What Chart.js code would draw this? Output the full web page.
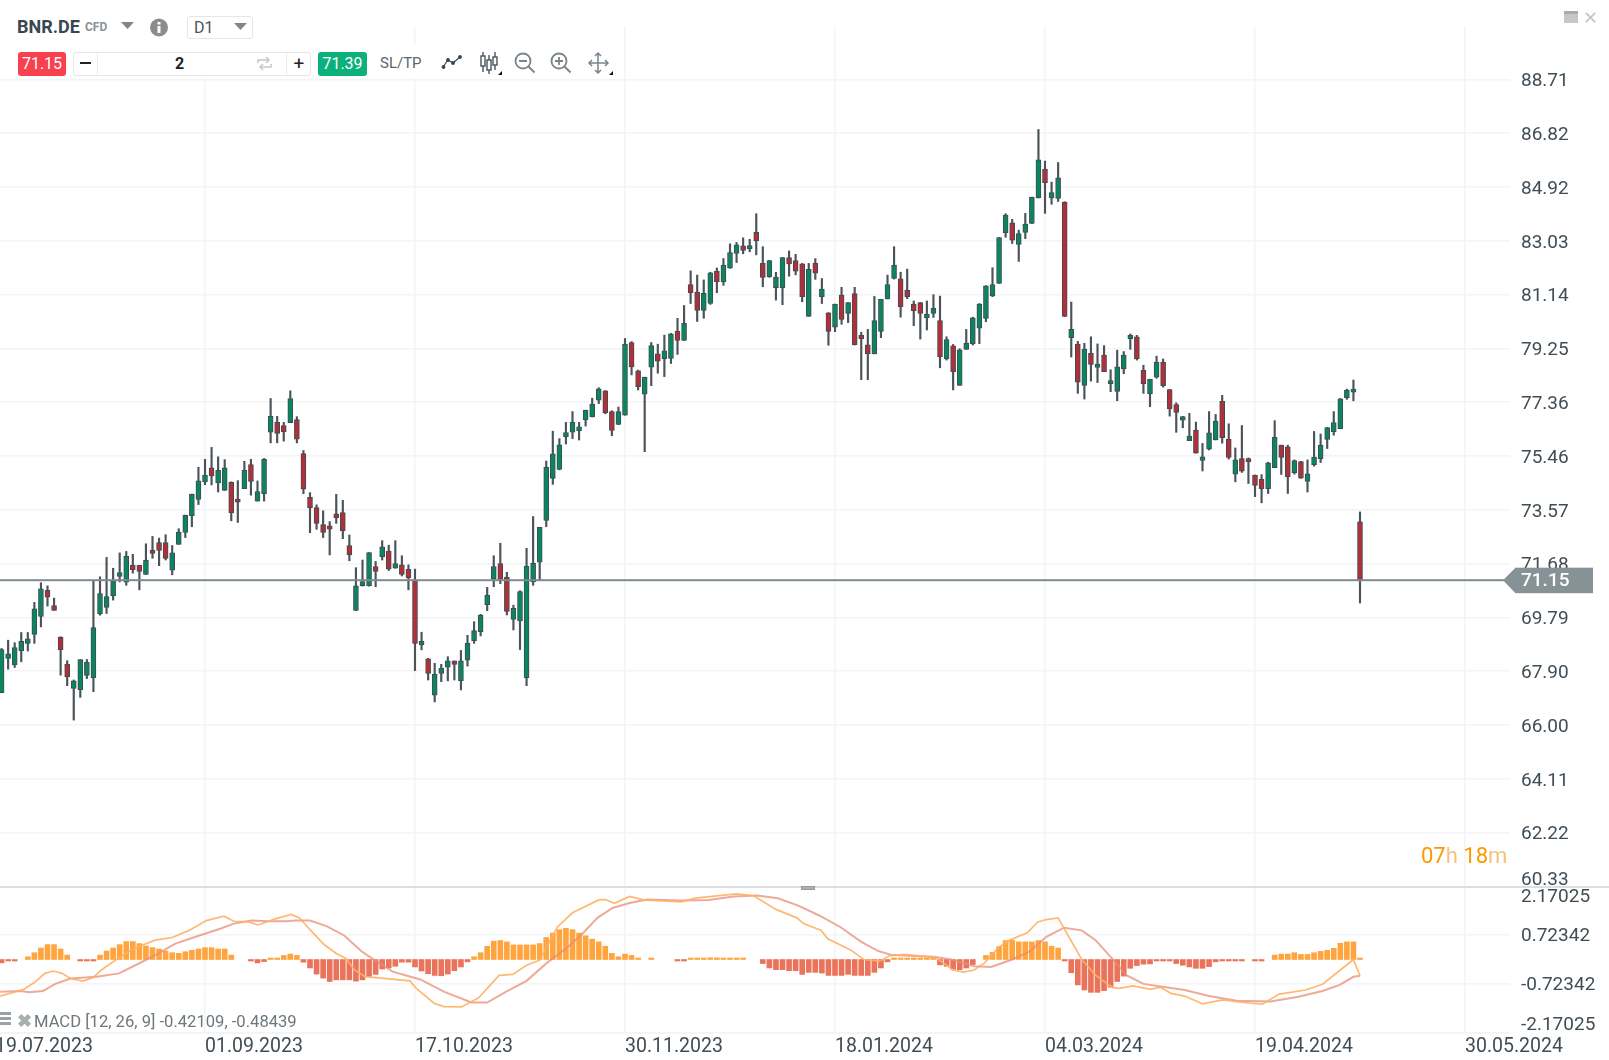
<!DOCTYPE html>
<html>
<head>
<meta charset="utf-8">
<title>BNR.DE</title>
<script src="https://cdn.jsdelivr.net/npm/chart.js@4/dist/chart.umd.min.js"></script>
<style>
  html, body { margin: 0; background: #fff; width: 1609px; height: 1060px; overflow: hidden; font-family: Roboto, sans-serif; }
  canvas { position: absolute; left: 0; }
  #priceChart { top: 0; }
  #macdChart { top: 886px; }
  .t { position: absolute; white-space: nowrap; line-height: 1; }
  .box { position: absolute; box-sizing: border-box; }
  svg { position: absolute; overflow: visible; }
</style>
</head>
<body>
<canvas id="priceChart" width="1609" height="887"></canvas>
<canvas id="macdChart" width="1609" height="174"></canvas>

<!-- pane separator -->
<div class="box" style="left:0;top:886px;width:1609px;height:2px;background:#dedede"></div>
<div class="box" style="left:801px;top:886px;width:14px;height:4px;background:#b0b0b0;border:1px solid #999"></div>

<!-- toolbar -->
<div class="box" style="left:0;top:0;width:265px;height:45px;background:#fff"></div>
<div class="box" style="left:0;top:45px;width:620px;height:33px;background:#fff"></div>
<span class="t" style="left:17px;top:18px;font-size:18px;font-weight:700;color:#37474f">BNR.DE</span>
<span class="t" style="left:85px;top:21px;font-size:12px;font-weight:700;color:#8a9296">CFD</span>
<svg style="left:121px;top:22px" width="14" height="8"><path d="M0 0H13L6.5 7Z" fill="#80878b"/></svg>
<svg style="left:149px;top:18px" width="20" height="20"><circle cx="10" cy="9.5" r="9" fill="#8c8c8c"/><rect x="8.5" y="8" width="3" height="7" fill="#fff"/><rect x="8.5" y="4" width="3" height="2.5" fill="#fff"/></svg>
<div class="box" style="left:187px;top:16px;width:66px;height:23px;border:1px solid #e4e6e8;border-radius:3px"></div>
<span class="t" style="left:194px;top:20px;font-size:16px;color:#4a5459">D1</span>
<svg style="left:234px;top:23px" width="14" height="8"><path d="M0 0H13L6.5 7Z" fill="#80878b"/></svg>

<div class="box" style="left:18px;top:52px;width:48px;height:24px;background:#f8404e;border-radius:3px"></div>
<span class="t" style="left:18px;top:56px;width:48px;text-align:center;font-size:16px;color:#fff">71.15</span>
<div class="box" style="left:73px;top:52px;width:238px;height:24px;border:1px solid #e4e6e8;border-radius:3px"></div>
<div class="box" style="left:97px;top:53px;width:190px;height:22px;border-left:1px solid #e8eaec;border-right:1px solid #e8eaec"></div>
<div class="box" style="left:80px;top:62px;width:11px;height:2px;background:#222"></div>
<span class="t" style="left:175px;top:56px;font-size:16px;font-weight:700;color:#222">2</span>
<svg style="left:257px;top:56px" width="15" height="15" fill="none" stroke="#c4c8ca" stroke-width="1.5"><path d="M1 7V4H12M9 1L12 4L9 7M14 8V11H3M6 8L3 11L6 14"/></svg>
<span class="t" style="left:287px;top:54px;width:24px;text-align:center;font-size:19px;font-weight:400;color:#222">+</span>
<div class="box" style="left:318px;top:52px;width:49px;height:24px;background:#0bb07b;border-radius:3px"></div>
<span class="t" style="left:318px;top:56px;width:49px;text-align:center;font-size:16px;color:#fff">71.39</span>
<span class="t" style="left:380px;top:56px;font-size:15px;color:#5b666c">SL/TP</span>

<svg style="left:442px;top:54px" width="22" height="16" fill="none" stroke="#37474f" stroke-width="1.2"><path d="M1 13L6 6L11 9L18 3"/><circle cx="1.5" cy="13" r="1.3" fill="#37474f"/><circle cx="6" cy="6" r="1.3" fill="#37474f"/><circle cx="11" cy="9" r="1.3" fill="#37474f"/><circle cx="18" cy="3" r="1.3" fill="#37474f"/></svg>
<svg style="left:480px;top:51px" width="20" height="24" fill="#fff" stroke="#4a5459" stroke-width="1.4"><path d="M3 1V21M9 4V23M15 1V19"/><rect x="1" y="5" width="4" height="10"/><rect x="7" y="9" width="4" height="10"/><rect x="13" y="6" width="4" height="8"/></svg>
<svg style="left:514px;top:52px" width="22" height="22" fill="none" stroke="#7a8489" stroke-width="1.8"><circle cx="9" cy="9" r="7.5"/><path d="M14.5 14.5L20.5 20.5M5 9H13"/></svg>
<svg style="left:550px;top:52px" width="22" height="22" fill="none" stroke="#7a8489" stroke-width="1.8"><circle cx="9" cy="9" r="7.5"/><path d="M14.5 14.5L20.5 20.5M5 9H13M9 5V13"/></svg>
<svg style="left:588px;top:52px" width="22" height="22" fill="none" stroke="#7a8489" stroke-width="1.5"><path d="M10 1V21M1 11H20M7 4L10 1L13 4M7 18L10 21L13 18M4 8L1 11L4 14M17 8L20 11L17 14"/></svg>
<svg style="left:498px;top:71px" width="5" height="5"><path d="M4 0V4H0Z" fill="#111"/></svg>
<svg style="left:609px;top:71px" width="5" height="5"><path d="M4 0V4H0Z" fill="#111"/></svg>

<!-- window buttons -->
<div class="box" style="left:1564px;top:11px;width:14px;height:12px;background:#c4c8cb;border-top:3px solid #a6abaf"></div>
<span class="t" style="left:1583px;top:9px;font-size:18px;color:#c4c8cb">✕</span>

<!-- countdown -->
<span class="t" style="left:1421px;top:845px;font-size:22px;color:#ff9800">07<span style="color:#f5c27f">h</span> 18<span style="color:#f5c27f">m</span></span>

<!-- macd caption -->
<svg style="left:0;top:1012px" width="12" height="15" fill="#9aa1a5"><rect y="0" width="11" height="3"/><rect y="5" width="11" height="3"/><rect y="10" width="11" height="3"/></svg>
<span class="t" style="left:17px;top:1012px;font-size:18px;font-weight:700;color:#a9aeb1">✖</span>
<span class="t" style="left:34px;top:1014px;font-size:16.6px;color:#6e777c">MACD [12, 26, 9] -0.42109, -0.48439</span>

<script>
// bars run from index 1, one per trading day
const firstBar = 1;

const opens = [
  67.14,68.35,68.12,68.62,68.88,69.19,69.83,70.74,70.21,69.10,
  68.15,67.29,67.25,67.75,67.67,69.91,70.14,70.55,71.23,71.03,
  71.62,71.62,71.30,72.16,72.42,72.42,71.45,72.36,72.78,73.37,
  73.94,74.56,75.05,74.52,74.26,74.54,73.95,74.32,75.17,73.88,
  74.14,76.31,76.65,76.54,76.64,76.75,75.55,74.01,73.65,73.06,
  73.01,73.43,73.48,72.32,70.04,70.91,70.91,71.58,71.93,72.12,
  71.52,71.64,71.48,71.10,68.82,68.33,67.06,67.82,68.04,68.26,
  67.57,68.29,68.97,69.29,70.24,71.14,71.68,71.21,69.72,69.67,
  67.67,71.04,71.73,73.20,74.68,75.00,76.15,76.31,76.36,76.74,
  76.84,77.43,77.76,77.03,76.58,76.90,79.46,78.46,77.64,78.59,
  79.06,78.89,78.90,79.86,79.53,81.50,81.23,80.59,80.83,81.97,
  81.59,82.07,82.59,82.86,82.76,83.33,82.24,81.77,81.39,81.39,
  82.45,82.34,82.23,80.38,82.24,81.07,80.50,80.00,81.13,80.48,
  81.18,79.71,79.38,79.06,79.85,80.99,81.71,81.70,81.29,80.81,
  80.86,80.32,80.48,80.23,78.89,79.34,77.95,79.22,79.42,79.96,
  80.31,81.10,81.54,83.32,83.67,82.91,83.33,83.65,84.55,85.56,
  84.54,84.53,84.40,79.63,79.40,77.95,79.08,78.58,79.02,78.01,
  77.74,78.53,79.59,79.66,78.48,77.65,78.24,78.76,77.80,77.28,
  76.73,76.01,76.38,75.31,75.71,76.03,77.39,76.06,74.83,75.38,
  75.37,74.80,74.65,74.32,75.06,75.85,75.79,74.88,75.27,74.57,
  75.16,75.37,76.05,76.32,76.43,77.52,77.71,73.15
];
const highs = [
  68.70,68.99,68.90,69.26,69.26,70.32,71.01,70.90,70.47,69.11,
  68.27,67.59,68.31,68.31,71.08,71.22,71.90,71.52,72.06,72.11,
  72.01,71.62,72.38,72.64,72.58,72.70,72.32,72.91,73.39,74.13,
  75.07,75.35,75.77,75.44,75.34,74.56,74.60,75.28,75.35,74.59,
  75.38,77.49,76.86,76.65,77.76,76.85,75.66,74.18,73.75,73.54,
  73.16,74.12,73.91,72.69,71.54,71.81,72.07,71.76,72.49,72.33,
  72.49,71.96,71.64,71.49,69.27,68.35,68.18,68.14,68.41,68.26,
  68.63,69.16,69.64,69.90,70.85,71.96,72.40,71.38,70.22,70.73,
  72.22,73.34,72.96,75.29,76.34,76.08,76.65,77.03,76.65,77.08,
  77.50,77.87,77.77,77.06,77.19,79.60,79.49,78.49,78.24,79.46,
  79.40,79.72,79.78,80.31,80.76,81.98,81.83,81.66,81.93,82.08,
  82.41,82.93,82.98,83.14,83.09,83.99,82.83,82.35,81.93,82.45,
  82.68,82.56,82.24,82.24,82.41,81.71,80.51,80.81,81.40,80.87,
  81.40,79.82,79.92,81.08,80.98,81.83,82.83,81.93,82.04,80.92,
  80.87,80.92,81.14,81.09,79.66,79.39,79.24,79.92,80.35,80.83,
  81.46,82.09,83.15,83.99,83.79,83.41,84.00,84.57,86.95,85.84,
  85.10,85.79,84.41,80.88,79.50,79.43,79.66,79.41,79.35,78.50,
  79.19,79.14,79.76,79.71,78.66,78.17,78.98,78.88,77.81,77.34,
  76.86,76.97,76.66,75.91,77.03,76.93,77.60,76.60,75.75,76.54,
  75.40,74.80,74.81,75.25,76.71,75.85,75.85,75.33,75.28,75.33,
  76.33,76.24,76.47,77.03,77.49,77.82,78.14,73.50
];
const lows = [
  67.14,67.97,68.03,68.23,68.61,68.88,69.46,70.19,70.04,67.76,
  67.39,66.18,66.98,67.64,67.18,69.87,69.93,70.40,71.04,70.92,
  71.35,70.76,71.30,71.87,71.61,71.81,71.29,72.36,72.60,72.98,
  73.76,74.46,74.45,74.20,74.26,73.19,73.13,74.32,74.09,73.88,
  73.88,75.93,75.93,75.99,76.64,75.93,74.14,72.77,72.89,72.60,
  71.99,73.10,72.56,71.78,70.03,70.89,70.89,70.87,71.81,71.44,
  71.52,71.25,70.76,67.92,68.65,67.59,66.82,67.53,67.56,67.59,
  67.24,68.08,68.88,69.14,70.03,70.87,70.98,69.88,69.35,68.66,
  67.39,70.92,71.11,72.98,74.47,74.98,75.89,76.08,76.03,76.52,
  76.84,77.31,76.95,76.18,76.57,76.90,78.32,77.79,75.62,77.94,
  78.38,78.26,78.72,79.04,79.53,80.83,80.20,80.31,80.80,81.21,
  81.47,82.07,82.27,82.58,82.65,82.54,81.42,81.75,80.95,80.79,
  81.79,81.84,80.89,80.38,81.68,80.83,79.36,79.84,80.10,80.16,
  79.37,78.15,78.15,79.06,79.63,80.99,81.69,80.35,81.00,80.05,
  79.58,79.90,80.34,78.57,78.84,77.79,77.95,79.22,79.37,79.42,
  80.19,81.07,81.54,83.16,82.94,82.31,83.11,83.64,84.54,84.00,
  84.32,84.42,80.37,78.95,77.67,77.47,78.10,78.05,78.43,77.73,
  77.41,78.36,79.22,78.84,77.67,77.20,78.20,77.89,76.87,76.30,
  76.46,76.01,75.57,74.94,75.68,76.03,75.92,75.36,74.56,74.89,
  74.50,74.04,73.82,74.15,75.06,74.82,74.15,74.83,74.68,74.20,
  75.11,75.24,75.73,76.20,76.43,77.46,77.41,70.30
];
const closes = [
  68.66,68.51,68.73,68.95,69.04,70.09,70.80,70.50,70.04,68.66,
  67.71,67.56,68.31,68.21,69.43,70.63,70.52,71.08,71.37,71.95,
  71.47,71.41,71.80,72.04,72.15,71.87,72.06,72.79,73.38,74.12,
  74.59,74.80,74.77,74.96,75.05,73.47,73.84,74.96,74.57,74.22,
  75.35,76.86,76.26,76.32,77.49,76.06,74.30,73.64,73.10,72.78,
  72.89,73.30,72.84,71.99,70.90,71.05,72.07,71.41,72.27,71.49,
  71.68,71.30,71.19,68.88,68.95,67.82,67.79,68.00,68.26,68.14,
  68.26,68.89,69.33,69.87,70.58,71.58,71.13,70.00,70.11,70.70,
  71.59,71.69,72.96,75.07,75.54,75.86,76.29,76.65,76.49,77.08,
  77.29,77.83,76.99,76.37,77.03,79.40,78.60,77.91,78.24,79.35,
  78.80,79.17,79.76,79.53,80.13,81.21,80.59,81.19,81.91,81.60,
  82.18,82.62,82.89,82.70,82.86,83.03,81.75,82.34,81.76,82.45,
  82.22,81.97,81.07,82.03,81.90,81.34,79.85,80.81,80.27,80.86,
  79.38,79.59,79.06,80.23,80.98,81.50,82.18,80.71,81.07,80.58,
  80.48,80.45,80.66,78.96,79.56,78.43,79.20,79.44,80.33,80.81,
  81.45,81.50,83.15,83.94,83.06,83.29,83.62,84.57,85.88,85.08,
  84.73,85.25,80.38,79.92,78.06,79.23,78.69,78.70,78.43,78.12,
  78.60,79.02,79.71,78.88,78.01,78.16,78.76,77.94,77.12,77.00,
  76.85,76.17,75.57,75.44,76.28,76.70,76.11,75.42,75.33,74.93,
  75.27,74.43,74.32,75.23,76.12,75.42,74.74,75.31,74.69,74.84,
  75.43,75.85,76.47,76.64,77.48,77.79,77.82,71.11
];

const histogram = [
  -.10,-.03,-.02,0,.08,.20,.34,.44,.44,.31,
  .13,0,-.02,-.04,-.02,.13,.25,.34,.44,.53,
  .53,.47,.40,.35,.31,.25,.20,.18,.23,.27,
  .31,.35,.35,.31,.31,.13,0,0,-.02,-.10,
  -.06,.02,.04,.12,.16,.12,-.08,-.25,-.43,-.55,
  -.65,-.60,-.60,-.60,-.64,-.60,-.50,-.44,-.28,-.25,
  -.20,-.08,-.08,-.22,-.34,-.42,-.47,-.48,-.43,-.33,
  -.22,-.07,.08,.20,.39,.54,.56,.52,.43,.43,
  .43,.43,.47,.65,.78,.88,.92,.88,.78,.70,
  .60,.52,.39,.18,.08,.16,.12,.03,0,.03,
  0,0,0,-.02,-.02,.02,.02,.02,.05,.05,
  .04,.04,.04,.02,0,0,-.12,-.25,-.30,-.30,
  -.33,-.33,-.44,-.38,-.38,-.40,-.47,-.47,-.47,-.44,
  -.47,-.47,-.47,-.38,-.25,-.07,.03,.02,.02,.02,
  .02,.02,.02,-.16,-.20,-.29,-.30,-.25,-.15,0,
  .12,.21,.38,.56,.57,.52,.52,.52,.56,.52,
  .39,.34,-.02,-.39,-.75,-.90,-.97,-.97,-.92,-.82,
  -.65,-.49,-.26,-.18,-.14,-.13,-.02,-.02,-.03,-.12,
  -.17,-.22,-.26,-.26,-.21,-.07,-.02,-.02,-.02,-.02,
  0,-.02,-.02,0,.13,.16,.16,.20,.15,.15,
  .20,.24,.27,.33,.48,.52,.52,.03
];

// macd and signal lines, read at the bends of each curve
const macdIdx = [0.8,4.4,6,7.6,8.9,10.2,11.5,13.4,15,16.2,18.6,20.7,22.8,24.4,27,29.6,32.2,34.9,36.4,38.5,40.1,42.7,45.1,46.4,48,50.1,52,53.5,54.8,56.4,58.5,63.2,64.2,66.9,68.4,71.1,73.7,76.8,78.9,81,83,85.7,88,92,93,94.4,96.7,98.8,104.6,106.7,113,115.6,119,122.2,123.2,125.9,126.9,130.3,132.4,134.8,136.3,138.7,143.4,146,147.6,149.2,150.8,153,154.9,157.3,158.9,160.2,162,165.6,167.7,170.3,171.3,173.4,176.1,177.6,179.2,181.3,184,187.1,190.2,193.1,195.7,199.7,202.3,207,208];
const macdVal = [-1.08,-.88,-.68,-.41,-.34,-.41,-.56,-.64,-.53,-.31,.01,.27,.45,.57,.65,.86,1.15,1.28,1.13,1.12,1.02,1.2,1.33,1.23,.88,.45,.18,.03,-.31,-.51,-.54,-.63,-.85,-1.29,-1.39,-1.40,-1.13,-.47,-.44,-.17,-.02,.96,1.38,1.76,1.77,1.66,1.86,1.76,1.70,1.81,1.94,1.88,1.48,1.23,1.06,.86,.61,.29,0,-.05,.11,.15,.05,-.31,-.37,-.31,-.10,.37,.6,.79,1.11,1.18,1.23,0,-.46,-.83,-.85,-.78,-.88,-.82,-1,-1.08,-1.31,-1.19,-1.27,-1.32,-1.02,-.9,-.73,0,-.48];
const signalIdx = [0.8,3.9,5.2,7.3,9.2,11.5,15.5,18.9,21.7,24.4,27.5,30.7,34.3,36.4,39.1,41.7,44.3,45.9,48,50.6,53.2,55.8,58,60.6,64.8,68.4,72.6,75,77.9,81,84.1,87.3,89.4,91.8,94.1,96.7,99.4,104.6,108.8,112.5,116.1,119.3,122.4,125.6,128.8,132,134.6,136.7,143,145.5,149.2,151.8,155,157.7,160.2,162.9,165.6,167.7,170.3,172.4,175,178.7,181.3,185,189.2,194.4,198.6,202.3,204.9,207,208];
const signalVal = [-.95,-.93,-.97,-.93,-.72,-.56,-.51,-.41,-.14,.13,.47,.68,.91,1.06,1.15,1.13,1.13,1.15,1.15,.98,.71,.25,-.04,-.36,-.59,-.95,-1.27,-1.27,-.95,-.63,-.10,.37,.74,1.23,1.52,1.67,1.77,1.74,1.76,1.86,1.89,1.81,1.59,1.3,.96,.52,.25,.13,.08,.01,-.2,-.22,0,.24,.67,.94,.86,.57,.01,-.46,-.72,-.83,-.9,-1.08,-1.22,-1.24,-1.1,-.93,-.75,-.51,-.48];

const priceTicks = [88.71,86.82,84.92,83.03,81.14,79.25,77.36,75.46,73.57,71.68,69.79,67.90,66.00,64.11,62.22,60.33];
const macdTicks = [2.17025,0.72342,-0.72342,-2.17025];
const dateIdx = [0,32,64,96,128,160,192,224];
const dateLabels = ['19.07.2023','01.09.2023','17.10.2023','30.11.2023','18.01.2024','04.03.2024','19.04.2024','30.05.2024'];

const lastPriceLevel = 71.10;
const lastPriceText = '71.15';

const gridColor = '#f3f4f6';
const tickColor = '#414d55';
const tickFont = { family: 'Roboto', size: 19, lineHeight: '16px' };

const xRange = { type: 'linear', min: 0.762, max: 230.857, offset: false };

function setTicks(values) {
  return s => { s.ticks = values.map(v => ({ value: v })); };
}

// drop the padding chart.js adds for overhanging labels, the panes fill their canvas
function noPadding(s) {
  s.paddingTop = s.paddingBottom = s.paddingLeft = s.paddingRight = 0;
}

function yAxis(values, min, max, label) {
  return {
    type: 'linear', position: 'right', min: min, max: max,
    border: { display: false },
    grid: { color: gridColor, drawTicks: false, lineWidth: 1.5 },
    ticks: { color: tickColor, font: tickFont, padding: 11, crossAlign: 'near', autoSkip: false, callback: label },
    afterBuildTicks: setTicks(values),
    afterFit: s => { s.width = 99; noPadding(s); }
  };
}

const lastPricePlugin = {
  id: 'lastPrice',
  afterDraw(chart) {
    const c = chart.ctx;
    const y = chart.scales.y.getPixelForValue(lastPriceLevel);
    c.save();
    c.fillStyle = '#7f8b8f';
    c.fillRect(0, y - 1, 1504, 2);
    c.fillStyle = '#869296';
    c.fillRect(1515, y - 12.5, 78, 25.5);
    c.beginPath();
    c.moveTo(1503, y);
    c.lineTo(1515.5, y - 12.5);
    c.lineTo(1515.5, y + 13);
    c.closePath();
    c.fill();
    c.fillStyle = '#fff';
    c.font = '500 19px Roboto';
    c.textBaseline = 'middle';
    c.fillText(lastPriceText, 1521, y + 1);
    c.restore();
  }
};

const priceY = yAxis(priceTicks, 60.31, 90.59, v => v === 60.33 ? [v.toFixed(2), ''] : v.toFixed(2));
priceY.ticks.labelOffset = 2;

new Chart(document.getElementById('priceChart'), {
  type: 'bar',
  data: {
    datasets: [
      {
        label: 'body',
        data: opens.map((o, i) => ({ x: i + firstBar, y: [o, closes[i]] })),
        backgroundColor: opens.map((o, i) => closes[i] >= o ? '#0a8560' : '#b02f38'),
        borderColor: '#414c52',
        borderWidth: 1,
        borderSkipped: false,
        barThickness: 5,
        grouped: false,
        minBarLength: 3,
        order: 0
      },
      {
        label: 'wick',
        data: highs.map((h, i) => ({ x: i + firstBar, y: [lows[i], h] })),
        backgroundColor: '#4a5459',
        borderWidth: 0,
        barThickness: 1.5,
        grouped: false,
        order: 1
      }
    ]
  },
  options: {
    responsive: false,
    animation: false,
    devicePixelRatio: 1,
    layout: { padding: { top: 26 } },
    plugins: { legend: { display: false }, tooltip: { enabled: false } },
    scales: {
      x: Object.assign({}, xRange, {
        border: { display: false },
        grid: { color: gridColor, drawTicks: false, lineWidth: 1.5, offset: false },
        ticks: { display: false, autoSkip: false },
        afterBuildTicks: setTicks(dateIdx),
        afterFit: s => { s.height = 0; noPadding(s); }
      }),
      y: priceY
    }
  },
  plugins: [lastPricePlugin]
});

const macdY = yAxis(macdTicks, -2.17025, 2.17025, v => {
  if (v > 2) return ['', v.toFixed(5)];
  if (v < -2) return [v.toFixed(5), ''];
  return v.toFixed(5);
});
macdY.ticks.labelOffset = 1;
// the outer two labels sit inside the pane, pushed in by their blank lines
macdY.ticks.font = ctx => {
  const v = ctx.tick ? ctx.tick.value : 0;
  return { family: 'Roboto', size: 19, lineHeight: v > 2 ? '20px' : v < -2 ? '18px' : '16px' };
};

new Chart(document.getElementById('macdChart'), {
  type: 'bar',
  data: {
    datasets: [
      {
        type: 'line',
        label: 'macd',
        data: macdIdx.map((x, i) => ({ x: x, y: macdVal[i] })),
        borderColor: 'rgba(255,176,100,0.9)',
        borderWidth: 1.7,
        pointRadius: 0,
        tension: 0,
        order: 0
      },
      {
        type: 'line',
        label: 'signal',
        data: signalIdx.map((x, i) => ({ x: x, y: signalVal[i] })),
        borderColor: 'rgba(232,140,120,0.75)',
        borderWidth: 2,
        pointRadius: 0,
        tension: 0,
        order: 1
      },
      {
        label: 'histogram',
        data: histogram.map((v, i) => ({ x: i + firstBar, y: v === 0 ? null : v })),
        backgroundColor: histogram.map(v => v >= 0 ? '#ffa53f' : '#ea745b'),
        barThickness: 5,
        grouped: false,
        minBarLength: 1.5,
        order: 2
      }
    ]
  },
  options: {
    responsive: false,
    animation: false,
    devicePixelRatio: 1,
    plugins: { legend: { display: false }, tooltip: { enabled: false } },
    scales: {
      x: Object.assign({}, xRange, {
        border: { display: true, color: gridColor, width: 1.5 },
        grid: { color: gridColor, drawTicks: false, lineWidth: 1.5, offset: false },
        ticks: {
          color: tickColor, font: { family: 'Roboto', size: 19.5 }, padding: 2,
          align: 'start', autoSkip: false, maxRotation: 0,
          callback: v => dateLabels[dateIdx.indexOf(v)]
        },
        afterBuildTicks: setTicks(dateIdx),
        afterFit: s => { s.height = 27; noPadding(s); }
      }),
      y: macdY
    }
  }
});
</script>
</body>
</html>
